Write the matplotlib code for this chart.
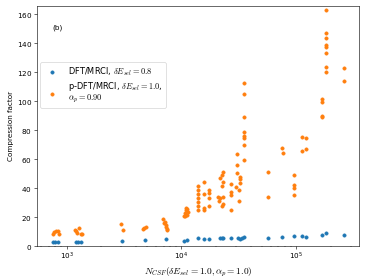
import matplotlib
matplotlib.use("Agg")
import matplotlib.pyplot as plt

# N_CSF values and compression factors
blue_ncsf = [759, 794, 849, 1209, 1267, 1329, 3020, 4817, 7288, 10576, 11096,
             14001, 15791, 17450, 21620, 22370, 23097, 26939, 31187, 32264,
             34055, 35163, 57317, 75250, 95130, 112300, 122660, 167600, 180500,
             262500]
blue_factor = [2.5, 2.5, 2.5, 3.0, 3.0, 3.0, 3.4, 3.9, 4.6, 3.7, 4.0,
               5.3, 4.6, 5.0, 5.3, 5.3, 5.3, 5.7, 5.3, 4.6,
               5.7, 6.2, 5.5, 6.2, 6.9, 6.7, 6.0, 7.6, 8.8,
               7.8]

orange_ncsf = [759, 783, 810, 838, 866,
               1186, 1209, 1241, 1292, 1329, 1356,
               2960, 3118,
               4654, 4750, 4885,
               6945, 7187, 7080, 7288, 7288, 7480, 7480,
               10576, 10725, 10942, 11096, 11322, 10942, 10725, 11096,
               14001, 14001, 14001, 14001, 14001, 14001, 14001,
               15791, 15791, 15791, 15791,
               17450, 17450, 17450, 17450,
               23097, 22370, 21620, 23097, 22370, 20900, 21620, 23097, 21317, 23097, 22370,
               26939, 26939, 26939, 26939,
               30565, 30565, 30565, 32264, 32720, 32264, 30200, 31623, 31623,
               35163, 35163, 35163, 35163, 35163, 35163, 35163, 35163,
               57317, 57317,
               75250, 76300,
               95130, 95130, 95130, 95130,
               112300, 112300, 122660, 122660,
               167600, 167600, 167600, 167600,
               180500, 180500, 180500, 180500, 180500, 180500, 180500, 180500,
               262500, 262500]
orange_factor = [8.5, 9.7, 10.6, 10.3, 8.3,
                 11.0, 10.1, 8.8, 12.6, 8.6, 8.6,
                 15.0, 11.3,
                 12.0, 12.6, 13.0,
                 19.0, 16.8, 15.6, 14.5, 13.3, 12.0, 11.4,
                 20.5, 22.5, 24.8, 21.4, 23.7, 26.0, 21.0, 25.5,
                 41.2, 38.6, 36.1, 32.9, 30.6, 27.7, 25.2,
                 44.4, 35.8, 26.2, 25.0,
                 38.6, 36.3, 32.9, 27.8,
                 50.8, 49.0, 46.7, 44.4, 41.4, 34.0, 32.9, 33.6, 31.3, 29.0, 27.8,
                 42.6, 37.4, 35.2, 24.8,
                 63.4, 55.9, 50.6, 47.4, 46.2, 43.7, 40.9, 38.6, 31.3,
                 112.6, 105.1, 89.2, 78.8, 75.9, 74.3, 70.0, 59.5,
                 51.3, 34.0,
                 67.4, 64.3,
                 49.2, 41.9, 40.2, 35.4,
                 75.4, 65.3, 74.5, 67.1,
                 101.2, 99.5, 89.9, 89.2,
                 162.8, 147.1, 143.7, 138.6, 137.0, 133.3, 123.7, 120.2,
                 122.5, 113.8]

blue_label = r'DFT/MRCI, $\delta E_{sel} = 0.8$'
orange_label = 'p-DFT/MRCI, $\\delta E_{sel} = 1.0$,\n$\\alpha_p = 0.90$'

plt.rcParams['mathtext.fontset'] = 'cm'
plt.rcParams['axes.formatter.use_mathtext'] = True
plt.rcParams['font.size'] = 10

fig = plt.figure(figsize=(7.04, 5.385), dpi=52)
ax = fig.add_axes([0.101, 0.121, 0.88, 0.857])

ax.scatter(blue_ncsf, blue_factor, s=20, label=blue_label)
ax.scatter(orange_ncsf, orange_factor, s=20, label=orange_label)

ax.set_xscale('log')
ax.set_xlim(553, 353000)
ax.set_ylim(0, 165.5)
ax.set_xlabel(r'$N_{CSF}(\delta E_{sel} = 1.0, \alpha_p = 1.0)$', fontsize=13)
ax.set_ylabel('Compression factor')

ax.text(0.047, 0.908, '(b)', transform=ax.transAxes, va='center', ha='left')
leg = ax.legend(loc='upper left', bbox_to_anchor=(0.009, 0.767), borderaxespad=0,
                fontsize=11.5, handletextpad=1.0, labelspacing=0.25)
for t in leg.get_texts():
    t.set_linespacing(0.95)

fig.savefig('out.png', dpi=52)
